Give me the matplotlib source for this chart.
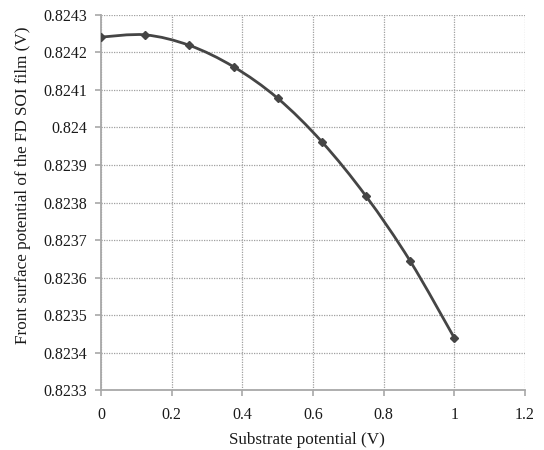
import matplotlib
matplotlib.use("Agg")
import matplotlib.pyplot as plt
import numpy as np
from matplotlib.path import Path
from matplotlib.patches import PathPatch

plt.rcParams['font.family'] = ['Liberation Serif', 'DejaVu Serif']

# data
substrate_v = [0, 0.125, 0.25, 0.375, 0.5, 0.625, 0.75, 0.875, 1.0]
front_pot = [0.824241, 0.824247, 0.824219, 0.824162, 0.824078,
             0.823962, 0.823817, 0.823644, 0.823439]
x_ticks = [0, 0.2, 0.4, 0.6, 0.8, 1, 1.2]
x_labels = ['0', '0.2', '0.4', '0.6', '0.8', '1', '1.2']
y_ticks = [0.8233, 0.8234, 0.8235, 0.8236, 0.8237, 0.8238,
           0.8239, 0.824, 0.8241, 0.8242, 0.8243]
y_labels = ['0.8233', '0.8234', '0.8235', '0.8236', '0.8237', '0.8238',
            '0.8239', '0.824', '0.8241', '0.8242', '0.8243']

fig = plt.figure(figsize=(5.44, 4.5), dpi=100)
ax = fig.add_axes([0.1857, 0.1333, 0.7793, 0.8334])

# smoothed line like a spreadsheet chart (catmull-rom -> bezier)
pts = np.column_stack([substrate_v, front_pot])
verts = [tuple(pts[0])]
codes = [Path.MOVETO]
n = len(pts)
for i in range(n - 1):
    p0 = pts[max(i - 1, 0)]
    p1 = pts[i]
    p2 = pts[i + 1]
    p3 = pts[min(i + 2, n - 1)]
    c1 = p1 + (p2 - p0) / 6.0
    c2 = p2 - (p3 - p1) / 6.0
    verts += [tuple(c1), tuple(c2), tuple(p2)]
    codes += [Path.CURVE4] * 3
curve = PathPatch(Path(verts, codes), facecolor='none', edgecolor='#454545',
                  lw=2.0, transform=ax.transData, zorder=3)
ax.add_patch(curve)
ax.plot(substrate_v, front_pot, linestyle='none', marker='D', markersize=4.5,
        color='#454545', zorder=4)

ax.set_xlim(0, 1.2)
ax.set_ylim(0.8233, 0.8243)
ax.set_xticks(x_ticks)
ax.set_xticklabels(x_labels)
ax.set_yticks(y_ticks)
ax.set_yticklabels(y_labels)

ax.grid(True, color='#a0a0a0', linestyle=(0, (1, 1)), linewidth=0.9)
ax.set_axisbelow(True)
for s in ['top', 'right']:
    ax.spines[s].set_visible(False)
for s in ['left', 'bottom']:
    ax.spines[s].set_color('#a8a8a8')
    ax.spines[s].set_linewidth(1.3)
ax.tick_params(axis='both', colors='#a8a8a8', length=4, width=1.2,
               labelsize=11.5, labelcolor='#1a1a1a')
ax.tick_params(axis='y', pad=6)
ax.tick_params(axis='x', pad=8)

ax.set_xlabel('Substrate potential (V)', fontsize=12.3, color='#1a1a1a', va='center')
ax.xaxis.set_label_coords(0.486, -0.134)
ax.set_ylabel('Front surface potential of the FD SOI film (V)', fontsize=12.3,
              color='#1a1a1a', va='center')
ax.yaxis.set_label_coords(-0.184, 0.545)

fig.savefig('out.png', dpi=100, facecolor='white')
